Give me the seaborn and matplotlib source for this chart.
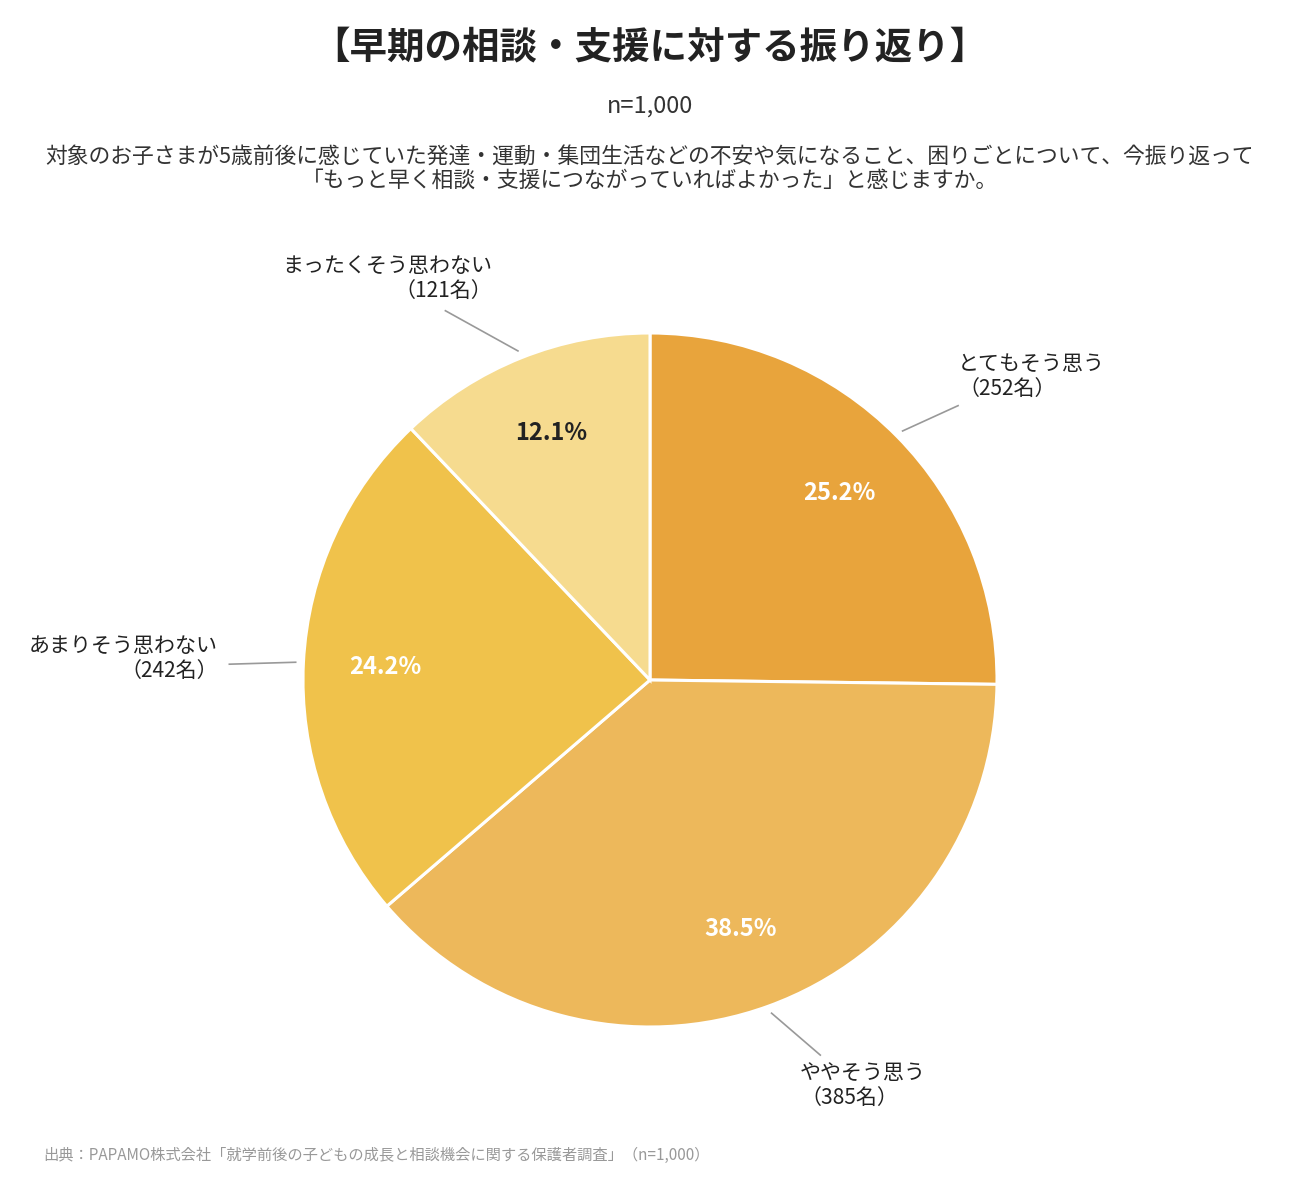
"""
Pie chart: 早期の相談・支援に対する振り返り (n=1,000)
"""

import matplotlib
matplotlib.use("Agg")
import matplotlib.pyplot as plt
import numpy as np
import seaborn as sns

# data
categories = ["とてもそう思う", "ややそう思う", "あまりそう思わない", "まったくそう思わない"]
counts = [252, 385, 242, 121]
percents = [25.2, 38.5, 24.2, 12.1]
colors = ["#E8A43C", "#EDB85B", "#F0C24B", "#F6DB8F"]
pct_colors = ["white", "white", "white", "#222222"]

title = "【早期の相談・支援に対する振り返り】"
sample = "n=1,000"
question = ("対象のお子さまが5歳前後に感じていた発達・運動・集団生活などの不安や気になること、困りごとについて、今振り返って\n"
            "「もっと早く相談・支援につながっていればよかった」と感じますか。")
source = "出典：PAPAMO株式会社「就学前後の子どもの成長と相談機会に関する保護者調査」（n=1,000）"

sns.set_theme(style="white")
plt.rcParams["font.family"] = ["Noto Sans CJK JP", "DejaVu Sans"]

W, H = 1300, 1200
fig = plt.figure(figsize=(13, 12), dpi=100)
ax = fig.add_axes([0, 0, 1, 1])

cx, cy, R = 650, H - 680, 347

wedges, _ = ax.pie(counts, colors=colors, startangle=90, counterclock=False,
                   center=(cx, cy), radius=R,
                   wedgeprops=dict(edgecolor="white", linewidth=2.2))
ax.set_xlim(0, W)
ax.set_ylim(0, H)
ax.set_aspect("equal")
ax.axis("off")

# label layout: offset of the leader line end (px, y up) and text placement
line_off = [(57, 26), (50, -43), (-68, -2), (-74, 41)]
text_pos = [(958, H - 377), (800, H - 1086), (218, H - 659), (492, H - 279)]
text_ha = ["left", "left", "right", "right"]

for i, w in enumerate(wedges):
    mid = np.deg2rad((w.theta1 + w.theta2) / 2)
    # percentage inside
    px = cx + 0.765 * R * np.cos(mid)
    py = cy + 0.765 * R * np.sin(mid)
    ax.text(px, py, f"{percents[i]}%", ha="center", va="center",
            fontsize=17, fontweight="bold", color=pct_colors[i])
    # leader line
    sx = cx + 1.02 * R * np.cos(mid)
    sy = cy + 1.02 * R * np.sin(mid)
    ax.plot([sx, sx + line_off[i][0]], [sy, sy + line_off[i][1]],
            color="#999999", linewidth=1.2, solid_capstyle="butt")
    # outside label
    ax.text(text_pos[i][0], text_pos[i][1], f"{categories[i]}\n（{counts[i]}名）",
            ha=text_ha[i], va="center", multialignment=text_ha[i],
            fontsize=15.1, color="#222222", linespacing=1.2)

fig.text(0.5, 1 - 47 / H, title, ha="center", va="center",
         fontsize=27, fontweight="bold", color="#222222")
fig.text(0.5, 1 - 106 / H, sample, ha="center", va="center",
         fontsize=17, color="#333333")
fig.text(0.5, 1 - 169 / H, question, ha="center", va="center",
         fontsize=15.7, color="#333333", linespacing=1.1)
fig.text(43 / W, 1 - 1155 / H, source, ha="left", va="center",
         fontsize=11, color="#999999")

fig.savefig("out.png", dpi=100, facecolor="white")
